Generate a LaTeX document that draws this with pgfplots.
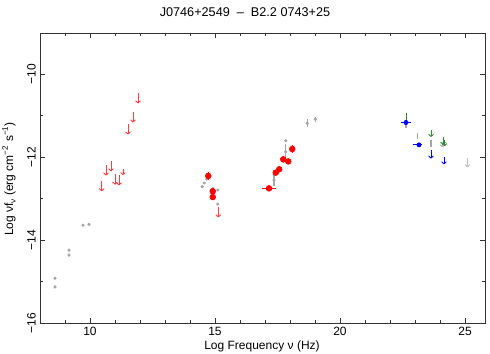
\documentclass[border=0pt]{standalone}
\usepackage{fontspec}
\setmainfont{Liberation Sans}
\usepackage{pgfplots}
\pgfplotsset{compat=1.18}
\usetikzlibrary{arrows.meta}
\definecolor{dgray}{RGB}{165,165,165}
\definecolor{sgreen}{RGB}{50,140,50}
\definecolor{lred}{RGB}{255,60,60}
\begin{document}
\fontsize{9}{11}\selectfont
\begin{tikzpicture}[x=1pt,y=1pt]
\useasboundingbox (0,0) rectangle (367.5,265.5);
\begin{axis}[at={(30pt,23.25pt)}, anchor=south west, scale only axis,
  width=333.75pt, height=217.5pt,
  xmin=8, xmax=25.8, ymin=-16, ymax=-9,
  xtick={10,15,20,25}, minor xtick={8,9,...,25},
  ytick={-16,-14,-12,-10}, minor ytick={-15,-13,-11},
  yticklabels={−16,−14,−12,−10},
  xticklabels={10,15,20,25},
  tick align=inside, major tick length=4pt, minor tick length=2.5pt,
  tick style={black!80, line width=0.6pt},
  axis line style={black!80, line width=0.6pt},
  yticklabel style={rotate=90, anchor=south, font=\fontsize{9}{11}\selectfont},
  xticklabel style={font=\fontsize{9}{11}\selectfont},
  clip=false]
% gray archival points
\addplot[only marks, mark=*, mark size=1pt, color=dgray, draw=dgray,
  error bars/.cd, y dir=both, y explicit, error mark=none,
  error bar style={dgray, line width=0.8pt}]
  table[y error=ey] {
x y ey
8.6 -14.92 0
8.6 -15.13 0
9.16 -14.24 0
9.16 -14.36 0
9.72 -13.64 0
9.96 -13.62 0
14.49 -12.71 0
14.57 -12.62 0
14.67 -12.53 0
14.91 -12.75 0
15.11 -12.79 0
15.11 -13.13 0
17.36 -12.55 0.15
17.83 -11.87 0.2
17.83 -11.6 0
18.69 -11.18 0.1
19.01 -11.08 0.06
};
% red measurements
\addplot[only marks, mark=*, mark size=2.2pt, color=red,
  error bars/.cd, y dir=both, y explicit, x dir=both, x explicit, error mark=none,
  error bar style={red, line width=0.8pt}]
  table[x error=ex, y error=ey] {
x y ex ey
14.73 -12.45 0 0.1
14.91 -12.82 0 0.06
14.91 -12.96 0 0.06
17.16 -12.75 0.27 0.05
17.43 -12.37 0 0.05
17.57 -12.29 0 0.05
17.73 -12.05 0 0.05
17.93 -12.1 0 0.05
18.09 -11.8 0 0.1
};
% red upper limits
\addplot[lred, line width=0.7pt, -{To[length=2.2pt,width=4pt]},
  quiver={u=0, v=\thisrow{v}}] table {
x y v
10.47 -12.57 -0.25
10.64 -12.19 -0.25
10.84 -12.09 -0.25
11.0 -12.41 -0.25
11.16 -12.43 -0.25
11.32 -12.29 -0.14
11.52 -11.2 -0.25
11.72 -10.91 -0.25
11.92 -10.45 -0.25
15.13 -13.2 -0.25
};
% gray segments and limits
\addplot[dgray, line width=0.8pt, quiver={u=0, v=\thisrow{v}}] table {
x y v
22.64 -11.16 -0.14
23.1 -11.42 -0.14
23.64 -11.58 -0.17
};
\addplot[dgray!70, line width=0.8pt, -{To[length=2.2pt,width=4pt]},
  quiver={u=0, v=\thisrow{v}}] table {
x y v
25.1 -12.02 -0.22
24.1 -11.62 -0.14
};
% green
\addplot[sgreen, line width=0.7pt, quiver={u=0, v=\thisrow{v}}] table {
x y v
22.64 -10.94 -0.22
};
\addplot[sgreen, line width=0.7pt, -{To[length=2.2pt,width=4pt]},
  quiver={u=0, v=\thisrow{v}}] table {
x y v
23.64 -11.34 -0.17
24.12 -11.5 -0.2
24.18 -11.58 -0.15
};
% blue
\addplot[only marks, mark=*, mark size=1.6pt, color=blue,
  error bars/.cd, x dir=both, x explicit, error mark=none,
  error bar style={blue, line width=0.8pt}]
  table[x error plus=exp, x error minus=exm] {
x y exp exm
22.64 -11.16 0.18 0.2
23.16 -11.7 0.1 0.24
};
\addplot[blue, line width=0.7pt, -{To[length=2.2pt,width=4pt]},
  quiver={u=0, v=\thisrow{v}}] table {
x y v
23.64 -11.83 -0.2
24.16 -12.0 -0.17
};
\end{axis}
\node at (183.75,256.5) {\fontsize{9.5}{11}\selectfont J0746+2549\ \ –\ \ B2.2 0743+25};
\node at (196.5,5.5) {Log Frequency ν (Hz)};
\node[rotate=90] at (6.75,131.25) {Log νf\raisebox{-0.4ex}{\fontsize{6}{7}\selectfont ν} (erg cm\textsuperscript{−2} s\textsuperscript{−1})};
\end{tikzpicture}
\end{document}
